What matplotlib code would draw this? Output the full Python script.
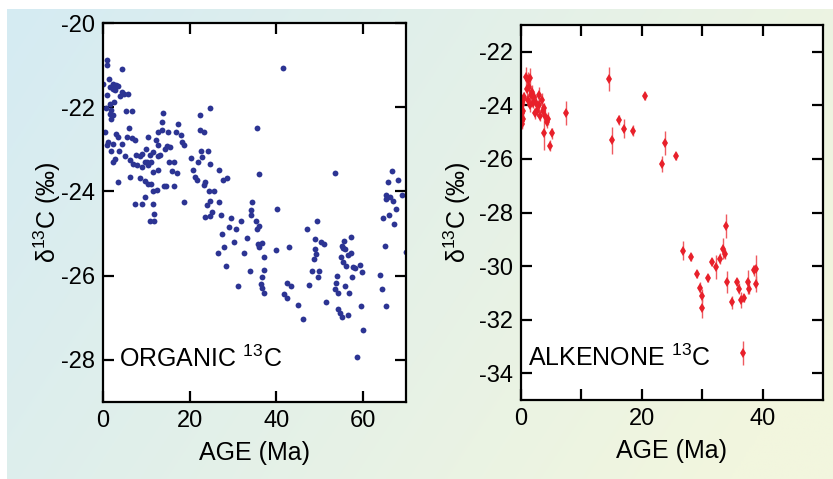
import numpy as np
import matplotlib.pyplot as plt

plt.rcParams['font.family'] = ['Liberation Sans', 'DejaVu Sans']
plt.rcParams['mathtext.fontset'] = 'custom'
plt.rcParams['mathtext.rm'] = 'Liberation Sans'
plt.rcParams['mathtext.default'] = 'regular'
plt.rcParams['axes.unicode_minus'] = False

# organic carbon d13C vs age (Ma)
organic_age = [
    0.9, 0.9, 4.5, 1.3, 0.0, 2.3, 2.9, 1.7, 3.5, 2.2, 2.7, 4.3, 4.8, 5.8, 3.9, 0.9,
    2.5, 1.6, 0.8, 1.9, 1.6, 2.3, 1.9, 5.3, 6.8, 13.8, 22.3, 24.7, 13.6, 17.4, 6.0,
    12.8, 13.6, 15.1, 16.9, 18.0, 22.5, 23.3, 0.4, 2.9, 3.5, 5.6, 6.6, 7.4, 10.5,
    12.2, 12.8, 1.2, 0.9, 2.3, 4.3, 18.2, 18.6, 14.9, 15.5, 14.3, 9.9, 1.9, 3.7,
    5.0, 7.6, 8.9, 8.5, 11.5, 10.9, 12.6, 13.2, 22.6, 24.2, 20.4, 21.9, 22.9, 24.8,
    2.7, 2.2, 6.2, 7.0, 7.8, 9.1, 9.7, 10.2, 11.2, 10.5, 15.3, 16.3, 11.6, 12.8,
    15.9, 17.1, 20.9, 26.7, 21.3, 21.7, 27.8, 28.7, 23.6, 23.3, 3.5, 6.2, 8.5, 9.7,
    10.5, 11.2, 16.5, 14.0, 14.6, 11.6, 12.4, 24.4, 25.6, 9.7, 18.6, 7.4, 9.1, 11.5,
    24.7, 26.7, 34.5,
    41.6, 35.5, 36.1, 53.5, 66.7, 65.8, 68.2, 69.0, 65.4, 66.3, 65.3, 66.9,
    24.0, 11.8, 10.9, 11.8, 23.6, 24.8, 25.2, 27.3, 29.5, 31.9, 29.1, 30.8, 27.4,
    30.2, 33.2, 34.3, 34.3, 27.9, 26.6, 32.6, 28.5, 34.0, 31.3,
    35.3, 35.5, 36.1, 40.2, 35.7, 36.1, 36.8, 37.1, 37.1, 36.8, 36.5, 36.8, 37.2,
    39.9, 42.9, 42.5, 43.4, 41.9, 42.4, 45.1, 46.1, 47.1, 49.5, 48.9, 50.3, 51.0,
    49.0, 49.2, 48.7, 48.3, 50.0, 49.6, 47.7, 51.6, 55.7, 57.2, 55.2, 55.4, 56.0,
    54.9, 56.6, 57.4, 55.4, 56.2, 57.8, 58.3, 59.3, 59.9, 54.1, 57.5, 53.9, 55.8,
    53.7, 54.3, 56.8, 54.3, 54.7, 55.1, 56.6, 59.7, 60.1, 58.7, 64.1, 64.4, 65.3,
    65.1, 69.9, 64.7, 66.1, 67.3, 67.6,
]
organic_d13c = [
    -20.88, -21.00, -21.10, -21.34, -21.44, -21.44, -21.48, -21.52, -21.50, -21.57,
    -21.60, -21.64, -21.68, -21.69, -21.73, -21.72, -21.88, -21.92, -22.03, -22.07,
    -22.15, -22.19, -22.27, -22.09, -22.09, -22.13, -22.19, -22.03, -22.35, -22.39,
    -22.49, -22.59, -22.53, -22.60, -22.59, -22.67, -22.55, -22.59, -22.59, -22.63,
    -22.71, -22.71, -22.73, -22.79, -22.71, -22.79, -22.89, -22.83, -22.89, -22.87,
    -22.87, -22.83, -22.89, -22.92, -22.95, -23.00, -23.00, -23.04, -23.05, -23.16,
    -23.13, -23.11, -23.17, -23.07, -23.13, -23.15, -23.13, -23.03, -23.04, -23.21,
    -23.30, -23.19, -23.34, -23.24, -23.29, -23.26, -23.34, -23.38, -23.42, -23.29,
    -23.30, -23.29, -23.38, -23.30, -23.30, -23.53, -23.50, -23.52, -23.57, -23.48,
    -23.50, -23.66, -23.72, -23.72, -23.68, -23.78, -23.84, -23.78, -23.66, -23.67,
    -23.76, -23.82, -23.82, -23.86, -23.88, -23.88, -23.98, -23.96, -23.98, -23.98,
    -24.14, -24.24, -24.31, -24.31, -24.31, -24.23, -24.26, -24.24,
    -21.07, -22.49, -23.58, -23.57, -23.52, -23.78, -23.74, -24.08, -24.08, -24.14,
    -24.18, -24.23,
    -24.32, -24.53, -24.71, -24.69, -24.61, -24.59, -24.48, -24.55, -24.63, -24.71,
    -24.85, -24.89, -25.02, -25.19, -25.11, -24.45, -24.56, -25.33, -25.47, -25.47,
    -25.76, -25.90, -26.24,
    -24.69, -24.89, -24.81, -24.41, -25.25, -25.33, -25.22, -25.56, -25.86, -26.02,
    -26.20, -26.30, -26.41, -25.40, -25.31, -26.17, -26.24, -26.44, -26.52, -26.69,
    -27.03, -24.90, -24.71, -25.13, -25.19, -25.25, -25.37, -25.48, -25.60, -25.90,
    -25.90, -26.02, -26.22, -26.62, -25.17, -25.09, -25.29, -25.35, -25.37, -25.56,
    -25.52, -25.46, -25.68, -25.78, -25.80, -25.82, -25.75, -25.92, -26.00, -26.02,
    -26.17, -26.24, -26.32, -26.41, -26.41, -26.79, -26.89, -26.97, -26.94, -26.71,
    -27.29, -27.93, -25.98, -26.32, -26.71, -25.29, -25.43, -24.63, -24.56, -24.77,
    -24.41,
]

# alkenone d13C vs age (Ma), with 1-sigma errors
alk_age = [
    0.1, 0.2, 0.2, 0.3, 0.3, 0.4, 0.1, 0.5, 0.2,
    0.8, 1.5, 1.2,
    1.0, 1.4, 1.6, 1.2, 1.8, 2.0, 1.5,
    2.2, 2.5, 2.7, 2.9, 3.0, 3.2, 2.4, 3.4, 3.6,
    3.8, 4.0, 4.3, 3.8, 5.1, 4.8, 4.5,
    7.5, 14.5, 15.1, 16.3, 17.1, 18.6, 20.6, 23.3, 23.8, 25.6,
    26.9, 28.2, 29.1, 29.6, 30.0, 30.0, 30.9, 31.6, 32.3, 32.9, 33.4, 33.8,
    33.9, 34.1, 35.0, 35.7, 36.1, 36.4, 37.0, 37.5, 37.8, 38.6, 38.9, 38.9, 36.8,
]
alk_d13c = [
    -24.6, -24.3, -24.0, -23.8, -24.5, -24.2, -23.9, -23.7, -24.7,
    -22.93, -22.96, -23.05,
    -23.4, -23.3, -23.6, -23.8, -23.5, -23.9, -24.0,
    -23.7, -23.9, -24.2, -23.6, -24.0, -24.4, -24.3, -23.8, -24.2,
    -24.1, -24.4, -24.63, -25.05, -25.05, -25.5, -24.5,
    -24.27, -23.0, -25.3, -24.55, -24.87, -24.95, -23.64, -26.18, -25.42, -25.9,
    -29.42, -29.67, -30.31, -30.8, -31.1, -31.58, -30.43, -29.86, -30.05, -29.72,
    -29.35, -29.55,
    -28.52, -30.6, -31.35, -30.6, -30.84, -31.28, -31.2, -30.6, -30.84, -30.16,
    -30.1, -30.66, -33.26,
]
alk_err = [
    0.25, 0.25, 0.2, 0.2, 0.25, 0.3, 0.2, 0.2, 0.2,
    0.35, 0.35, 0.3,
    0.25, 0.3, 0.25, 0.2, 0.25, 0.2, 0.25,
    0.2, 0.25, 0.2, 0.3, 0.25, 0.2, 0.2, 0.25, 0.2,
    0.2, 0.25, 0.2, 0.6, 0.2, 0.2, 0.25,
    0.45, 0.45, 0.5, 0.2, 0.35, 0.2, 0.15, 0.3, 0.45, 0.15,
    0.34, 0.15, 0.15, 0.2, 0.25, 0.35, 0.15, 0.15, 0.45, 0.2, 0.4, 0.2,
    0.45, 0.4, 0.25, 0.15, 0.2, 0.3, 0.15, 0.45, 0.2, 0.2, 0.5, 0.3, 0.45,
]

blue = '#2c3493'
red = '#e8202a'

fig = plt.figure(figsize=(8.33, 4.79), dpi=100, facecolor='white')

# soft blue-to-yellow backdrop behind both panels
bg = fig.add_axes([7 / 833, 0, 1 - 7 / 833, 1 - 9 / 479], zorder=0)
gx, gy = np.meshgrid(np.linspace(0, 1, 300), np.linspace(0, 1, 200))
t = np.clip(0.8 * gx + 0.3 * gy, 0, 1)
c0 = np.array([213, 235, 243]) / 255
c1 = np.array([242, 246, 222]) / 255
img = c0[None, None, :] * (1 - t[..., None]) + c1[None, None, :] * t[..., None]
bg.imshow(img, aspect='auto', extent=[0, 1, 0, 1], origin='upper')
bg.axis('off')

ax1 = fig.add_axes([103 / 833, 1 - 402 / 479, 303 / 833, 379 / 479], zorder=1)
ax2 = fig.add_axes([521 / 833, 1 - 400 / 479, 302 / 833, 375 / 479], zorder=1)

ax1.plot(organic_age, organic_d13c, 'o', ms=4.2, mew=0, color=blue)
ax1.set_xlim(0, 70)
ax1.set_ylim(-29, -20)
ax1.set_xticks([0, 20, 40, 60])
ax1.set_yticks([-20, -22, -24, -26, -28])
ax1.text(0.052, 0.115, 'ORGANIC $^{13}$C', transform=ax1.transAxes,
         fontsize=18, va='center', ha='left')

ax2.errorbar(alk_age, alk_d13c, yerr=alk_err, fmt='d', ms=5, mew=0, color=red,
             ecolor='#ef5a60', elinewidth=1, capsize=2.2, capthick=1)
ax2.set_xlim(0, 50)
ax2.set_ylim(-35, -21)
ax2.set_xticks([0, 10, 20, 30, 40])
ax2.set_xticklabels(['0', '', '20', '', '40'])
ax2.set_yticks([-22, -24, -26, -28, -30, -32, -34])
ax2.text(0.022, 0.112, 'ALKENONE $^{13}$C', transform=ax2.transAxes,
         fontsize=18, va='center', ha='left')

for ax, lp in ((ax1, -2), (ax2, 4)):
    ax.set_facecolor('white')
    for s in ax.spines.values():
        s.set_linewidth(1.6)
    ax.tick_params(direction='in', length=8, width=1.6, top=True, right=True,
                   labelsize=17, pad=6)
    ax.set_xlabel('AGE (Ma)', fontsize=18, labelpad=6)
    ax.set_ylabel('δ$^{13}$C (‰)', fontsize=18, labelpad=lp)

fig.savefig('out.png', dpi=100, facecolor='white')
